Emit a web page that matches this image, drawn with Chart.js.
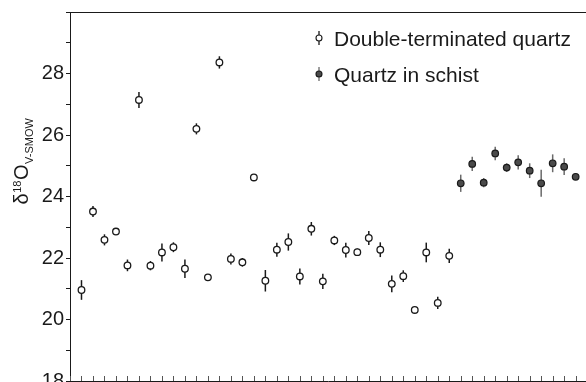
<!DOCTYPE html>
<html>
<head>
<meta charset="utf-8">
<script src="https://cdn.jsdelivr.net/npm/chart.js@4.4.1/dist/chart.umd.min.js"></script>
<style>
html, body { margin: 0; padding: 0; background: #fff; }
</style>
</head>
<body>
<canvas id="isoChart" width="586" height="382"></canvas>
<script>
/* ---------- data ---------- */
// double-terminated quartz, sample positions 1..33
const dtSample = [1, 2, 3, 4, 5, 6, 7, 8, 9, 10, 11, 12, 13, 14, 15, 16, 17,
                  18, 19, 20, 21, 22, 23, 24, 25, 26, 27, 28, 29, 30, 31, 32, 33];
const dtValue = [20.96, 23.51, 22.59, 22.86, 21.76, 27.14, 21.75, 22.18, 22.35, 21.65, 26.2,
                 21.37, 28.36, 21.97, 21.86, 24.62, 21.26, 22.27, 22.52, 21.4, 22.95, 21.24,
                 22.57, 22.26, 22.19, 22.65, 22.27, 21.16, 21.41, 20.31, 22.18, 20.54, 22.07];
const dtError = [0.32, 0.18, 0.18, 0.1, 0.19, 0.26, 0.15, 0.29, 0.16, 0.3, 0.18,
                 0.08, 0.2, 0.18, 0.14, 0.08, 0.35, 0.23, 0.28, 0.26, 0.22, 0.25,
                 0.15, 0.24, 0.12, 0.23, 0.24, 0.27, 0.19, 0.08, 0.32, 0.2, 0.23];
// quartz in schist, sample positions 34..44
const qsSample = [34, 35, 36, 37, 38, 39, 40, 41, 42, 43, 44];
const qsValue = [24.43, 25.06, 24.45, 25.4, 24.94, 25.11, 24.84, 24.43, 25.08, 24.97, 24.64];
const qsError = [0.28, 0.23, 0.15, 0.22, 0.14, 0.23, 0.24, 0.44, 0.29, 0.27, 0.08];

const seriesNames = ['Double-terminated quartz', 'Quartz in schist'];
const yTickLabels = ['18', '20', '22', '24', '26', '28'];

const FONT = '"Liberation Sans", Arial, Helvetica, sans-serif';
const INK = '#1a1a1a';

function toPoints(xs, ys) {
    return xs.map((x, i) => ({x: x, y: ys[i]}));
}

/* ---------- plugins ---------- */
// vertical error bars, drawn under the markers
const errorBars = {
    id: 'errorBars',
    beforeDatasetsDraw(chart) {
        const ctx = chart.ctx, xs = chart.scales.x, ys = chart.scales.y;
        chart.data.datasets.forEach(ds => {
            ctx.save();
            ctx.strokeStyle = ds.errorColor;
            ctx.lineWidth = 1.5;
            ds.data.forEach((p, j) => {
                const px = xs.getPixelForValue(p.x);
                ctx.beginPath();
                ctx.moveTo(px, ys.getPixelForValue(p.y - ds.errors[j]));
                ctx.lineTo(px, ys.getPixelForValue(p.y + ds.errors[j]));
                ctx.stroke();
            });
            ctx.restore();
        });
    }
};

// top frame line, inward x ticks, y title and the legend
const frame = {
    id: 'frame',
    afterDraw(chart) {
        const ctx = chart.ctx, area = chart.chartArea, xs = chart.scales.x;
        ctx.save();
        ctx.strokeStyle = INK;
        ctx.lineWidth = 1;
        ctx.beginPath();
        ctx.moveTo(area.left, area.top + 0.5);
        ctx.lineTo(area.right, area.top + 0.5);
        ctx.stroke();

        ctx.strokeStyle = '#555';
        for (let i = Math.ceil(xs.min); i <= xs.max; i++) {
            const px = Math.round(xs.getPixelForValue(i)) + 0.5;
            ctx.beginPath();
            ctx.moveTo(px, area.bottom);
            ctx.lineTo(px, area.bottom - 5);
            ctx.stroke();
        }

        // y title: delta 18 O V-SMOW, rotated
        const parts = [
            {t: '\u03B4', size: 20, dy: 0},
            {t: '18', size: 11, dy: -7},
            {t: 'O', size: 20, dy: 0},
            {t: 'V-SMOW', size: 11, dy: 5}
        ];
        let total = 0;
        parts.forEach(p => { ctx.font = p.size + 'px ' + FONT; p.w = ctx.measureText(p.t).width; total += p.w; });
        ctx.translate(28, 162);
        ctx.rotate(-Math.PI / 2);
        ctx.fillStyle = INK;
        ctx.textBaseline = 'alphabetic';
        let u = -total / 2;
        parts.forEach(p => {
            ctx.font = p.size + 'px ' + FONT;
            ctx.fillText(p.t, u, p.dy);
            u += p.w + 0.5;
        });
        ctx.restore();

        // legend
        ctx.save();
        const rows = [38, 74];
        chart.data.datasets.forEach((ds, i) => {
            const cy = rows[i];
            ctx.strokeStyle = ds.errorColor;
            ctx.lineWidth = 1.3;
            ctx.beginPath();
            ctx.moveTo(319, cy - 7);
            ctx.lineTo(319, cy + 7);
            ctx.stroke();
            ctx.beginPath();
            ctx.arc(319, cy, 3, 0, Math.PI * 2);
            ctx.fillStyle = ds.backgroundColor;
            ctx.fill();
            ctx.strokeStyle = INK;
            ctx.lineWidth = 1.1;
            ctx.stroke();
            ctx.fillStyle = INK;
            ctx.font = '21px ' + FONT;
            ctx.textBaseline = 'middle';
            ctx.fillText(ds.label, 334, cy + 2);
        });
        ctx.restore();
    }
};

new Chart(document.getElementById('isoChart'), {
    type: 'scatter',
    data: {
        datasets: [
            {
                label: seriesNames[0],
                data: toPoints(dtSample, dtValue),
                errors: dtError,
                errorColor: INK,
                backgroundColor: '#ffffff',
                borderColor: INK,
                borderWidth: 1.3,
                pointRadius: 3.3
            },
            {
                label: seriesNames[1],
                data: toPoints(qsSample, qsValue),
                errors: qsError,
                errorColor: '#6a6a6a',
                backgroundColor: '#4a4a4a',
                borderColor: INK,
                borderWidth: 1.2,
                pointRadius: 3.3
            }
        ]
    },
    options: {
        responsive: false,
        animation: false,
        layout: {autoPadding: false, padding: {top: 12, right: 0, bottom: 1, left: 0}},
        scales: {
            x: {
                type: 'linear', min: 0, max: 44.9,
                afterFit(scale) { scale.height = 0; scale.paddingLeft = 0; scale.paddingRight = 0; },
                ticks: {display: false},
                grid: {drawOnChartArea: false, drawTicks: false},
                border: {display: true, color: INK, width: 1}
            },
            y: {
                min: 18, max: 30,
                afterFit(scale) { scale.width = 70; scale.paddingTop = 0; scale.paddingBottom = 0; },
                ticks: {
                    stepSize: 1, autoSkip: false, padding: 2,
                    color: INK, font: {family: FONT, size: 20},
                    callback: v => yTickLabels.includes(String(v)) ? String(v) : ''
                },
                grid: {drawOnChartArea: false, drawTicks: true, tickLength: 4, color: INK},
                border: {display: true, color: INK, width: 1}
            }
        },
        plugins: {
            legend: {display: false},
            tooltip: {enabled: false}
        }
    },
    plugins: [errorBars, frame]
});
</script>
</body>
</html>
